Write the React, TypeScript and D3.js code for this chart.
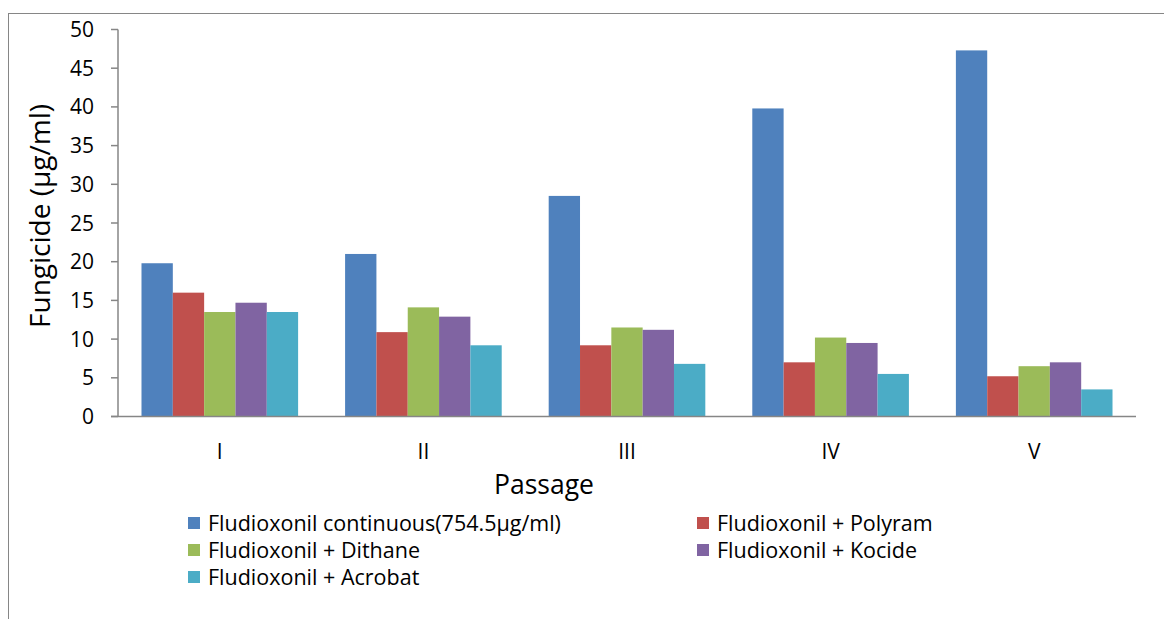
import React from "react";
import * as d3 from "d3";

const categories = ["I", "II", "III", "IV", "V"];
const seriesNames = [
  "Fludioxonil continuous(754.5µg/ml)",
  "Fludioxonil + Polyram",
  "Fludioxonil + Dithane",
  "Fludioxonil + Kocide",
  "Fludioxonil + Acrobat",
];
const continuous = [19.8, 21.0, 28.5, 39.8, 47.3];
const polyram = [16.0, 10.9, 9.2, 7.0, 5.2];
const dithane = [13.5, 14.1, 11.5, 10.2, 6.5];
const kocide = [14.7, 12.9, 11.2, 9.5, 7.0];
const acrobat = [13.5, 9.2, 6.8, 5.5, 3.5];
const yTicks = [0, 5, 10, 15, 20, 25, 30, 35, 40, 45, 50];
const colors = ["#4F81BD", "#C0504D", "#9BBB59", "#8064A2", "#4BACC6"];

const seriesValues = [continuous, polyram, dithane, kocide, acrobat];

export default function App() {
  const W = 1164, H = 619;
  const left = 118, right = 1136, top = 29.5, bottom = 416.5;
  const font = "'Open Sans', sans-serif";
  const x = d3.scaleBand().domain(categories).range([left, right]).paddingInner(0).paddingOuter(0);
  const y = d3.scaleLinear().domain([0, 50]).range([bottom, top]);
  const bw = x.bandwidth() / 6.5;
  const axisColor = "#868686";

  const legendPos = [
    [188, 523], [697, 523],
    [188, 550], [697, 550],
    [188, 577],
  ];

  return (
    <svg width={W} height={H} style={{ position: "absolute", left: 0, top: 0, background: "#fff" }} fontFamily={font}>
      <rect x={8.5} y={13.5} width={1170} height={620} fill="#fff" stroke={axisColor} strokeWidth={1} />
      {seriesValues.map((vals, si) =>
        vals.map((v, ci) => {
          const x0 = (x(categories[ci]) as number) + bw * 0.75 + si * bw;
          return (
            <rect key={`${si}-${ci}`} x={x0} y={y(v)} width={bw} height={bottom - y(v)} fill={colors[si]} />
          );
        })
      )}
      <line x1={left} x2={left} y1={top} y2={bottom} stroke={axisColor} strokeWidth={1.5} />
      {yTicks.map((t) => (
        <g key={t}>
          <line x1={left - 7} x2={left} y1={y(t)} y2={y(t)} stroke={axisColor} strokeWidth={1.5} />
          <text x={94} y={y(t)} dy="0.36em" textAnchor="end" fontSize={21} fill="#000">{t}</text>
        </g>
      ))}
      <line x1={left - 7} x2={right} y1={bottom} y2={bottom} stroke={axisColor} strokeWidth={1.5} />
      {categories.map((c) => (
        <text key={c} x={(x(c) as number) + x.bandwidth() / 2} y={459} textAnchor="middle" fontSize={21} fill="#000">{c}</text>
      ))}
      <text x={544} y={494} textAnchor="middle" fontSize={26.5} fill="#000">Passage</text>
      <text transform={`translate(50,216) rotate(-90)`} textAnchor="middle" fontSize={28} fill="#000">Fungicide (µg/ml)</text>
      {seriesNames.map((n, i) => (
        <g key={n}>
          <rect x={legendPos[i][0]} y={legendPos[i][1] - 6} width={12} height={12} fill={colors[i]} />
          <text x={legendPos[i][0] + 20} y={legendPos[i][1]} dy="0.36em" fontSize={21.5} fill="#000">{n}</text>
        </g>
      ))}
    </svg>
  );
}
